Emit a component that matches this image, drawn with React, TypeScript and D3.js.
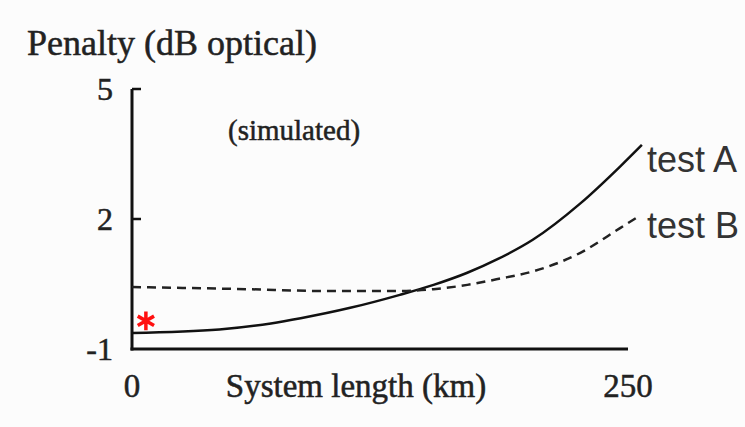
import React from "react";
import * as d3 from "d3";

const lengthKm = [0, 44, 70, 85, 110, 135, 152, 169, 185, 202, 226, 246, 257];
const testA = [-0.63, -0.55, -0.41, -0.29, -0.05, 0.25, 0.48, 0.76, 1.09, 1.52, 2.36, 3.21, 3.71];
const lengthKmB = [0, 59, 95, 135, 152, 169, 185, 202, 216, 226, 246, 255];
const testB = [0.43, 0.38, 0.34, 0.34, 0.38, 0.48, 0.62, 0.79, 1.01, 1.22, 1.79, 2.05];
const yTicks = [5, 2, -1];
const xTicks = [0, 250];
const seriesLabels = ["test A", "test B"];
const marker = { km: 7, value: -0.35 };

export default function App() {
  const W = 745, H = 427;
  const x = d3.scaleLinear().domain([0, 250]).range([132, 628]);
  const y = d3.scaleLinear().domain([-1, 5]).range([349, 89]);
  const line = d3
    .line<[number, number]>()
    .x((d) => x(d[0]))
    .y((d) => y(d[1]))
    .curve(d3.curveMonotoneX);
  const dA = line(lengthKm.map((k, i) => [k, testA[i]]) as [number, number][]) || "";
  const dB = line(lengthKmB.map((k, i) => [k, testB[i]]) as [number, number][]) || "";
  const star = d3.symbol().type(d3.symbolAsterisk).size(250)() || "";
  const serif = "'Liberation Serif', 'Times New Roman', serif";
  const sans = "'Liberation Sans', Arial, sans-serif";
  const ink = "#222";
  const serifStyle = { fontFamily: serif, fill: ink, stroke: ink, strokeWidth: 0.5 };
  return (
    <svg width={W} height={H} style={{ position: "absolute", left: 0, top: 0, background: "#fcfcfc" }}>
      <text x={27} y={55} fontSize={36} style={serifStyle}>
        Penalty (dB optical)
      </text>
      <text x={228} y={140} fontSize={29} style={serifStyle}>
        (simulated)
      </text>
      {/* axes */}
      <line x1={x(0)} x2={x(0)} y1={y(5)} y2={y(-1) + 1.5} stroke="#111" strokeWidth={3} />
      <line x1={x(0) - 1.5} x2={x(250)} y1={y(-1)} y2={y(-1)} stroke="#111" strokeWidth={3} />
      {yTicks.map((t) => (
        <g key={t}>
          {t !== -1 && (
            <line x1={x(0)} x2={x(0) + 9} y1={y(t)} y2={y(t)} stroke="#111" strokeWidth={2.5} />
          )}
          <text x={113} y={y(t)} dy="0.34em" textAnchor="end" fontSize={32} style={serifStyle}>
            {t}
          </text>
        </g>
      ))}
      {xTicks.map((t) => (
        <text key={t} x={x(t)} y={397} textAnchor="middle" fontSize={33} style={serifStyle}>
          {t}
        </text>
      ))}
      <text x={356} y={397} textAnchor="middle" fontSize={33} style={serifStyle}>
        System length (km)
      </text>
      {/* series */}
      <path d={dA} fill="none" stroke="#111" strokeWidth={2.5} />
      <path d={dB} fill="none" stroke="#222" strokeWidth={2.5} strokeDasharray="9,6" />
      <path
        d={star}
        transform={`translate(${x(marker.km)},${y(marker.value)})`}
        fill="none"
        stroke="#ff1010"
        strokeWidth={3.5}
      />
      <text x={647} y={172} fontFamily={sans} fontSize={36} fill="#333">
        {seriesLabels[0]}
      </text>
      <text x={647} y={238} fontFamily={sans} fontSize={36} fill="#333">
        {seriesLabels[1]}
      </text>
    </svg>
  );
}
